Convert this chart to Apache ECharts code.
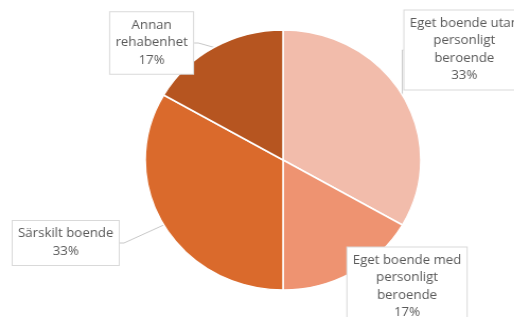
<!DOCTYPE html>
<html>
<head>
<meta charset="utf-8">
<script src="https://cdn.jsdelivr.net/npm/echarts@6/dist/echarts.min.js"></script>
<style>
html, body { margin: 0; padding: 0; background: #fff; width: 514px; height: 317px; overflow: hidden; }
/* the reference is slightly stretched sideways, so draw narrower and stretch;
   the canvas is a bit larger than the window so edge labels get cut like the original */
#chart { width: 520px; height: 345px; transform: scaleX(1.06); transform-origin: 0 0; }
</style>
</head>
<body>
<div id="chart"></div>
<script>
var categories = ['Eget boende utan\npersonligt\nberoende', 'Eget boende med\npersonligt\nberoende', 'Särskilt boende', 'Annan\nrehabenhet'];
var values = [2, 1, 2, 1];
var colors = ['#F2BCAB', '#EE9371', '#DA6A2C', '#B65520'];

// label box centres (unstretched px)
var labelPos = [[438, 50], [384, 287], [62, 243], [143, 43]];

var myChart = echarts.init(document.getElementById('chart'));

var data = [];
for (var i = 0; i < categories.length; i++) {
	data.push({
		name: categories[i],
		value: values[i],
		itemStyle: { color: colors[i] },
		labelLine: { show: i != 1 }
	});
}

var option = {
	animation: false,
	series: [{
		type: 'pie',
		center: [267, 160],
		radius: 130,
		startAngle: 90,
		clockwise: true,
		itemStyle: { borderColor: '#fff', borderWidth: 1.5 },
		label: {
			show: true,
			formatter: function (p) {
				var lines = (p.name + '\n' + Math.round(p.percent) + '%').split('\n');
				return lines.map(function (s) { return '{c|' + s + '}'; }).join('\n');
			},
			overflow: 'none',
			backgroundColor: '#fff',
			borderColor: '#D9D9D9',
			borderWidth: 1,
			padding: [4, 5, 5, 5],
			rich: {
				c: { align: 'center', fontFamily: 'Open Sans', fontSize: 12.5, lineHeight: 17.5, color: '#595959' }
			}
		},
		labelLine: {
			show: true,
			length: 4,
			length2: 4,
			lineStyle: { color: '#C8C8C8', width: 1 }
		},
		labelLayout: function (params) {
			var p = labelPos[params.dataIndex];
			return { x: p[0], y: p[1], align: 'center', verticalAlign: 'middle' };
		},
		emphasis: { disabled: true },
		data: data
	}]
};

myChart.setOption(option);
</script>
</body>
</html>
